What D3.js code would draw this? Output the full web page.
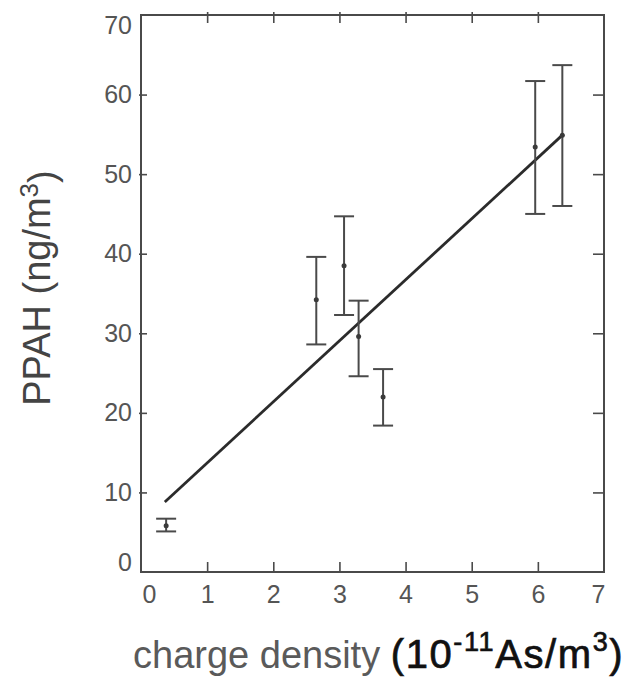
<!DOCTYPE html>
<html>
<head>
<meta charset="utf-8">
<script src="https://cdn.jsdelivr.net/npm/d3@7"></script>
<style>
    html, body { margin: 0; padding: 0; background: #fff; }
    svg { display: block; }
</style>
</head>
<body>
<div id="chart"></div>
<script>
    "use strict";
    // values
    var chargeDensity = [0.38 , 2.65 , 3.07 , 3.29 , 3.66 , 5.96 , 6.37];
    var ppah = [5.8 , 34.2 , 38.5 , 29.6 , 22.0 , 53.4 , 54.9];
    var ppahLow = [5.1 , 28.6 , 32.3 , 24.6 , 18.4 , 45.0 , 46.0];
    var ppahHigh = [6.7 , 39.6 , 44.7 , 34.1 , 25.5 , 61.7 , 63.7];
    var fitX = [0.36 , 6.37];
    var fitY = [8.8 , 54.9];
    var xTicks = [0 , 1 , 2 , 3 , 4 , 5 , 6 , 7];
    var yTicks = [0 , 10 , 20 , 30 , 40 , 50 , 60 , 70];

    (function () {
        var W = 633 , H = 687;
        var pl = 141 , pr = 604 , pt = 15 , pb = 572;
        var axisColor = "#4a4a4a" , labelColor = "#555";
        var font = "'Liberation Sans', Arial, sans-serif";
        var fmt = d3.format("d");

        var svg = d3.select("#chart").append("svg").attr("width" , W).attr("height" , H);
        svg.append("rect").attr("width" , W).attr("height" , H).attr("fill" , "#fff");

        var x = d3.scaleLinear().domain([0 , 7]).range([pl , pr]);
        var y = d3.scaleLinear().domain([0 , 70]).range([pb , pt]);

        function styleAxis(g) {
            g.select(".domain").remove();
            g.selectAll("line").attr("stroke" , axisColor).attr("stroke-width" , 1.6);
            g.selectAll("text").attr("fill" , labelColor)
                .style("font-family" , font).style("font-size" , "25px");
        }

        // bottom axis, ticks pointing in
        var gx = svg.append("g").attr("transform" , "translate(0," + pb + ")")
            .call(d3.axisBottom(x).tickValues(xTicks).tickFormat(fmt)
                .tickSizeInner(-10).tickSizeOuter(0).tickPadding(13))
            .call(styleAxis);
        gx.selectAll(".tick").filter(function (d) { return d === 0 || d === 7; }).select("line").remove();
        gx.selectAll(".tick text").attr("dx" , function (d) { return d === 0 ? 8 : d === 7 ? -6 : 0; });

        // top axis, no labels
        var gxt = svg.append("g").attr("transform" , "translate(0," + pt + ")")
            .call(d3.axisTop(x).tickValues(xTicks.slice(1 , -1)).tickSizeInner(-8).tickSizeOuter(0).tickFormat(""))
            .call(styleAxis);
        gxt.selectAll(".tick line").attr("y1" , -3);

        // left axis
        var gy = svg.append("g").attr("transform" , "translate(" + pl + ",0)")
            .call(d3.axisLeft(y).tickValues(yTicks).tickFormat(fmt)
                .tickSizeInner(-6).tickSizeOuter(0).tickPadding(9))
            .call(styleAxis);
        gy.selectAll(".tick line").attr("x1" , -2);
        gy.selectAll(".tick").filter(function (d) { return d === 0 || d === 70; }).select("line").remove();
        gy.selectAll(".tick text").attr("dy" , function (d) {
            return d === 70 ? "0.72em" : d === 0 ? "-0.08em" : "0.32em";
        });

        // right axis, no labels
        svg.append("g").attr("transform" , "translate(" + pr + ",0)")
            .call(d3.axisRight(y).tickValues(yTicks.slice(1 , -1)).tickSizeInner(-11).tickSizeOuter(0).tickFormat(""))
            .call(styleAxis);

        // frame
        svg.append("rect")
            .attr("x" , pl).attr("y" , pt)
            .attr("width" , pr - pl).attr("height" , pb - pt)
            .attr("fill" , "none").attr("stroke" , axisColor).attr("stroke-width" , 2);

        // regression line
        svg.append("line")
            .attr("x1" , x(fitX[0])).attr("y1" , y(fitY[0]))
            .attr("x2" , x(fitX[1])).attr("y2" , y(fitY[1]))
            .attr("stroke" , "#2b2b2b").attr("stroke-width" , 2.8);

        // error bars
        var idx = d3.range(chargeDensity.length);
        var bars = svg.append("g").attr("stroke" , "#4a4a4a").attr("stroke-width" , 2);
        bars.selectAll(".stem").data(idx).join("line").attr("class" , "stem")
            .attr("x1" , function (i) { return x(chargeDensity[i]); })
            .attr("x2" , function (i) { return x(chargeDensity[i]); })
            .attr("y1" , function (i) { return y(ppahLow[i]); })
            .attr("y2" , function (i) { return y(ppahHigh[i]); });
        [ppahLow , ppahHigh].forEach(function (arr) {
            bars.append("g").selectAll("line").data(idx).join("line")
                .attr("x1" , function (i) { return x(chargeDensity[i]) - 10; })
                .attr("x2" , function (i) { return x(chargeDensity[i]) + 10; })
                .attr("y1" , function (i) { return y(arr[i]); })
                .attr("y2" , function (i) { return y(arr[i]); });
        });

        svg.append("g").selectAll("circle").data(idx).join("circle")
            .attr("cx" , function (i) { return x(chargeDensity[i]); })
            .attr("cy" , function (i) { return y(ppah[i]); })
            .attr("r" , 2.5).attr("fill" , "#3a3a3a");

        // axis titles
        var yl = svg.append("text")
            .attr("transform" , "translate(50,288) rotate(-90)")
            .attr("text-anchor" , "middle")
            .attr("fill" , "#444")
            .style("font-family" , font).style("font-size" , "38px");
        yl.append("tspan").text("PPAH (ng/m");
        yl.append("tspan").attr("dy" , "-0.45em").style("font-size" , "26px").text("3");
        yl.append("tspan").attr("dy" , "0.45em").text(")");

        var xl = svg.append("text")
            .attr("x" , 133).attr("y" , 668)
            .style("font-family" , font).style("font-size" , "38px");
        xl.append("tspan").attr("fill" , "#5a5a5a").text("charge density ");
        var unit = [
            {t: "(10" , sup: false} ,
            {t: "-11" , sup: true} ,
            {t: "As/m" , sup: false} ,
            {t: "3" , sup: true} ,
            {t: ")" , sup: false}
        ];
        var prevSup = false;
        unit.forEach(function (u) {
            var ts = xl.append("tspan").attr("fill" , "#111")
                .attr("stroke" , "#111").attr("stroke-width" , 0.7)
                .style("letter-spacing" , "1.6px")
                .style("font-size" , u.sup ? "27px" : "40px").text(u.t);
            if (u.sup !== prevSup) ts.attr("dy" , u.sup ? -17 : 17);
            prevSup = u.sup;
        });
    })();
</script>
</body>
</html>
